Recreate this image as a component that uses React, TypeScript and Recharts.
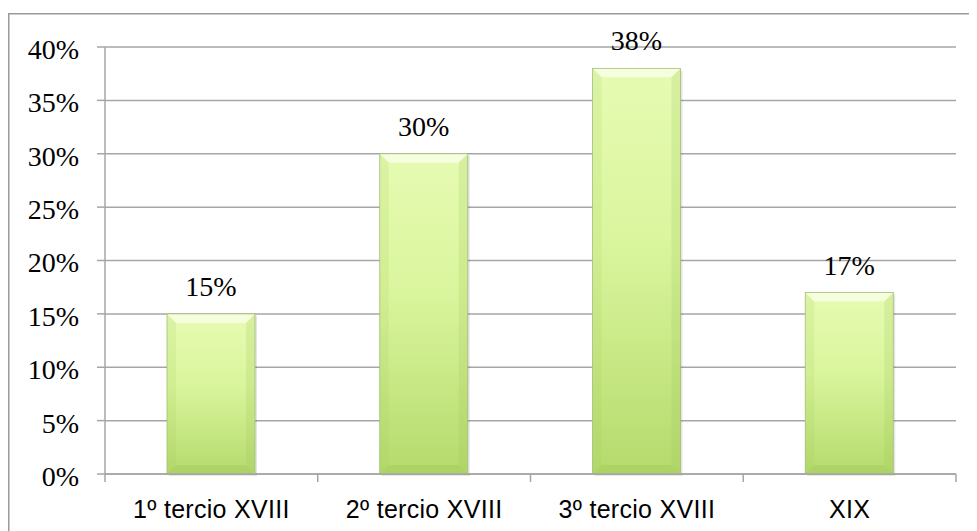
import React from "react";
import { BarChart, Bar, XAxis, YAxis, CartesianGrid, LabelList } from "recharts";

// Share of documents by period
const categories: string[] = ["1º tercio XVIII", "2º tercio XVIII", "3º tercio XVIII", "XIX"];
const shares: number[] = [15, 30, 38, 17];
const yTicks: number[] = [0, 5, 10, 15, 20, 25, 30, 35, 40];

const data = categories.map((period, i) => ({ period, share: shares[i] }));

const GRID = "#a6a6a6";
const SERIF = "'Liberation Serif', 'Times New Roman', serif";
const SANS = "'Liberation Sans', Arial, sans-serif";

// Bevelled, gradient-filled column
const BevelBar = (props: any) => {
  const { x, y, width, height, index } = props;
  if (!height || height <= 0) return null;
  const b = Math.min(9, height / 4);
  const id = `barfill-${index}`;
  const x2 = x + width;
  const y2 = y + height;
  return (
    <g>
      <defs>
        <linearGradient id={id} x1="0" y1="0" x2="0" y2="1">
          <stop offset="0%" stopColor="#e6fbb2" />
          <stop offset="45%" stopColor="#d9f59c" />
          <stop offset="100%" stopColor="#b5da6c" />
        </linearGradient>
      </defs>
      {/* soft drop shadow */}
      <rect x={x + 2} y={y + 2} width={width} height={height} fill="#000" opacity={0.1} />
      <rect x={x} y={y} width={width} height={height} fill={`url(#${id})`} />
      {/* top bevel */}
      <polygon points={`${x},${y} ${x2},${y} ${x2 - b},${y + b} ${x + b},${y + b}`} fill="#f9ffe8" opacity={0.8} />
      {/* bottom bevel */}
      <polygon points={`${x},${y2} ${x2},${y2} ${x2 - b},${y2 - b} ${x + b},${y2 - b}`} fill="#8fb84a" opacity={0.22} />
      {/* side bevels */}
      <polygon points={`${x},${y} ${x + b},${y + b} ${x + b},${y2 - b} ${x},${y2}`} fill="#9cc456" opacity={0.14} />
      <polygon points={`${x2},${y} ${x2 - b},${y + b} ${x2 - b},${y2 - b} ${x2},${y2}`} fill="#9cc456" opacity={0.2} />
      <rect x={x} y={y} width={width} height={height} fill="none" stroke="#a3bd78" strokeWidth={0.8} />
    </g>
  );
};

// Category label with tick marks on the band boundaries
const CategoryTick = (props: any) => {
  const { x, y, payload, index, visibleTicksCount } = props;
  const half = payload && payload.offset ? payload.offset : 106.4;
  const axisY = y - 8;
  const last = index === (visibleTicksCount ?? categories.length) - 1;
  return (
    <g>
      <line x1={x - half} y1={axisY} x2={x - half} y2={axisY + 8} stroke={GRID} strokeWidth={1.5} />
      {last && <line x1={x + half} y1={axisY} x2={x + half} y2={axisY + 8} stroke={GRID} strokeWidth={1.5} />}
      <text
        x={x}
        y={axisY + 44}
        textAnchor="middle"
        fontFamily={SANS}
        fontSize={25}
        letterSpacing={0.3}
        fill="#000"
      >
        {payload.value}
      </text>
    </g>
  );
};

export default function App() {
  return (
    <div style={{ position: "relative", width: 969, height: 523 }}>
      <div style={{ position: "absolute", left: 0, top: 0 }}>
        <BarChart
          width={969}
          height={523}
          data={data}
          margin={{ top: 39, right: 21, bottom: 0, left: 0 }}
        >
          <CartesianGrid vertical={false} stroke={GRID} strokeWidth={1.5} />
          <XAxis
            dataKey="period"
            height={57}
            axisLine={{ stroke: GRID, strokeWidth: 1.5 }}
            tickLine={false}
            tickSize={8}
            tickMargin={0}
            interval={0}
            tick={<CategoryTick />}
          />
          <YAxis
            width={97}
            domain={[0, 40]}
            ticks={yTicks}
            interval={0}
            tickFormatter={(v: number) => `${v}%`}
            axisLine={{ stroke: GRID, strokeWidth: 1.5 }}
            tickLine={{ stroke: GRID, strokeWidth: 1.5 }}
            tickSize={8}
            tickMargin={18}
            tick={{ fontFamily: SERIF, fontSize: 28, fill: "#000", dy: 2 }}
          />
          <Bar dataKey="share" barSize={88} shape={<BevelBar />} isAnimationActive={false}>
            <LabelList
              dataKey="share"
              position="top"
              offset={18}
              formatter={(v: any) => `${v}%`}
              style={{ fontFamily: SERIF, fontSize: 28, fill: "#000" }}
            />
          </Bar>
        </BarChart>
      </div>
      <svg
        width={969}
        height={523}
        style={{ position: "absolute", left: 0, top: 0, pointerEvents: "none" }}
      >
        <path d="M 0.75 523 L 0.75 5.75 L 969 5.75" fill="none" stroke="#9a9a9a" strokeWidth={1.5} />
      </svg>
    </div>
  );
}
